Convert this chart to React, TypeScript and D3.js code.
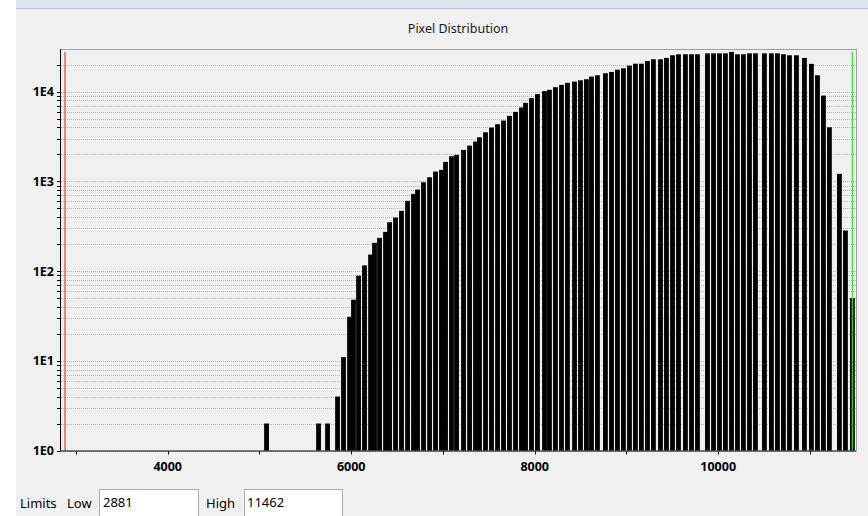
import React from 'react'
import * as d3 from 'd3'

const W = 868
const H = 516

// pixel value (bar centre) and number of pixels
const levels = [
    5077, 5644, 5742, 5851, 5916, 5982, 6025, 6080, 6145, 6211, 6254, 6309, 6374,
    6418, 6483, 6548, 6614, 6679, 6723, 6788, 6854, 6919, 6984, 7028, 7093, 7148,
    7224, 7290, 7355, 7398, 7464, 7529, 7595, 7660, 7725, 7791, 7856, 7900, 7965,
    8030, 8107, 8161, 8226, 8292, 8357, 8434, 8499, 8564, 8619, 8684, 8771, 8837,
    8902, 8967, 9033, 9098, 9163, 9229, 9294, 9371, 9436, 9502, 9567, 9643, 9709,
    9774, 9883, 9949, 10014, 10079, 10145, 10210, 10275, 10341, 10406, 10504, 10580,
    10646, 10711, 10777, 10853, 10940, 11016, 11082, 11147, 11212, 11321, 11387, 11463
]
const counts = [
    2, 2, 2, 4, 11, 31, 48, 89, 116, 153, 207, 235, 274,
    351, 396, 470, 608, 728, 812, 980, 1115, 1290, 1346, 1652, 1910, 1980,
    2250, 2513, 2785, 3110, 3535, 3990, 4345, 4780, 5385, 5970, 6675, 7530, 8490,
    9420, 10170, 10520, 11250, 11940, 12570, 12990, 13440, 13800, 14770, 15280, 16080, 16650,
    17650, 18270, 19530, 20570, 20570, 22030, 23030, 23030, 23860, 25540, 26200, 26200, 26200,
    26200, 26840, 26840, 26840, 26840, 27840, 26200, 26200, 26840, 26840, 26840, 26840,
    26840, 26200, 25540, 25540, 23860, 20480, 15280, 9070, 4020, 1216, 284, 50
]

const lowLimit = 2881
const highLimit = 11462
const xTickValues = [3000, 4000, 5000, 6000, 7000, 8000, 9000, 10000, 11000]
const xLabelValues = [4000, 6000, 8000, 10000]
const decades = [0, 1, 2, 3, 4]

const plot = { left: 60, right: 856, top: 49, bottom: 450.5 }
const barWidth = 4.8

const labelFont = { fontFamily: '"Noto Sans", "DejaVu Sans", sans-serif', fontSize: '12.5px', fontWeight: 700, fill: '#000' }
const uiFont = { fontFamily: '"Noto Sans", "DejaVu Sans", sans-serif', fontSize: '13px', fill: '#000' }

function App() {
    const x = d3.scaleLinear().domain([2826, 11502]).range([plot.left, plot.right])
    const y = d3.scaleLog().domain([1, 30000]).range([plot.bottom, plot.top])

    // minor log ticks 1..9 x 10^k, the ones inside the frame
    const gridValues = y.ticks().filter(v => v < 29000)

    return (
        <svg width={W} height={H} style={{ display: 'block' }}>
            <style>{'body{margin:0}'}</style>
            <rect x={0} y={0} width={W} height={H} fill="#ffffff" />
            <rect x={16} y={0} width={W - 16} height={H} fill="#f0f0f0" />
            <rect x={16} y={0} width={W - 16} height={8} fill="#dfe4ef" />
            <line x1={16} x2={W} y1={8.5} y2={8.5} stroke="#b9c0cc" />

            <text x={458} y={33} textAnchor="middle" style={{ ...uiFont, fontSize: '12.5px', fill: '#1a1a1a' }}>Pixel Distribution</text>

            {gridValues.map(v => (
                <line key={'g' + v} x1={plot.left + 1} x2={plot.right} y1={Math.round(y(v)) + 0.5} y2={Math.round(y(v)) + 0.5}
                    stroke="#b2b2b2" strokeDasharray="1,1" />
            ))}

            {levels.map((lv, i) => (
                <rect key={'b' + lv} x={x(lv) - barWidth / 2} y={y(counts[i])} width={barWidth}
                    height={plot.bottom - y(counts[i])} fill="#000" />
            ))}

            {/* frame */}
            <line x1={plot.left} x2={plot.right + 0.5} y1={plot.top + 0.5} y2={plot.top + 0.5} stroke="#a0a0a0" />
            <line x1={plot.right + 0.5} x2={plot.right + 0.5} y1={plot.top} y2={plot.bottom + 1} stroke="#a0a0a0" />

            {/* limits */}
            <line x1={x(lowLimit)} x2={x(lowLimit)} y1={plot.top + 3} y2={plot.bottom} stroke="#f05a5a" strokeWidth={1.5} />
            <line x1={x(highLimit)} x2={x(highLimit)} y1={plot.top + 3} y2={plot.bottom} stroke="#2ee82e" strokeWidth={1.2} />

            {/* y axis */}
            <line x1={plot.left + 0.5} x2={plot.left + 0.5} y1={plot.top} y2={plot.bottom + 1} stroke="#000" />
            {gridValues.map(v => (
                <line key={'t' + v} x1={plot.left - 3} x2={plot.left} y1={Math.round(y(v)) + 0.5} y2={Math.round(y(v)) + 0.5} stroke="#000" />
            ))}
            {decades.map(k => (
                <text key={'d' + k} x={54} y={y(Math.pow(10, k))} dy="0.36em" textAnchor="end" style={labelFont}>{'1E' + k}</text>
            ))}

            {/* x axis */}
            <line x1={plot.left} x2={plot.right} y1={plot.bottom + 0.5} y2={plot.bottom + 0.5} stroke="#000" />
            {xTickValues.map(v => (
                <line key={'x' + v} x1={Math.round(x(v)) + 0.5} x2={Math.round(x(v)) + 0.5} y1={plot.bottom + 1} y2={plot.bottom + 4} stroke="#000" />
            ))}
            {xLabelValues.map(v => (
                <text key={'xl' + v} x={x(v)} y={471} textAnchor="middle" style={labelFont}>{v}</text>
            ))}

            {/* limit inputs */}
            <text x={20} y={508} style={uiFont}>Limits</text>
            <text x={67} y={508} style={uiFont}>Low</text>
            <rect x={99.5} y={489.5} width={99} height={30} fill="#fff" stroke="#abadb3" />
            <text x={103} y={507} style={uiFont}>{lowLimit}</text>
            <text x={206} y={508} style={uiFont}>High</text>
            <rect x={244.5} y={489.5} width={98} height={30} fill="#fff" stroke="#abadb3" />
            <text x={247} y={507} style={uiFont}>{highLimit}</text>
        </svg>
    )
}

export default App
